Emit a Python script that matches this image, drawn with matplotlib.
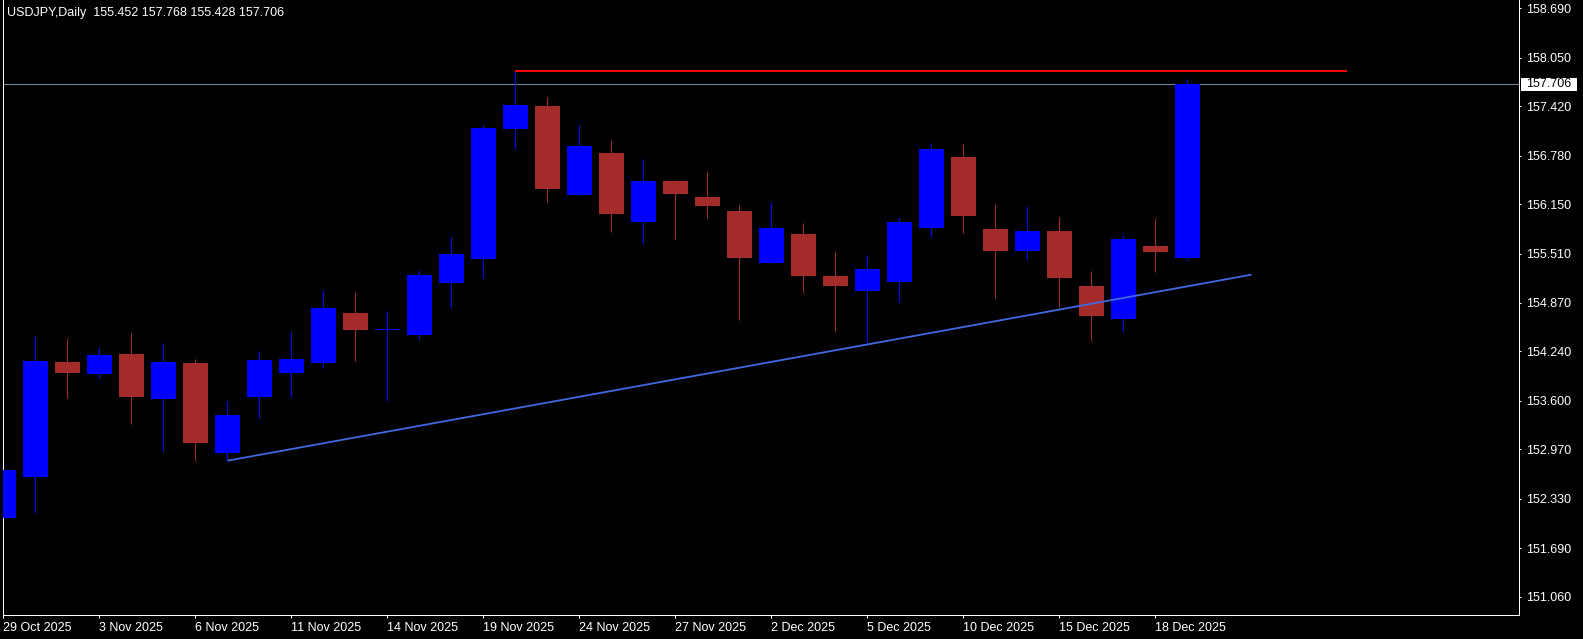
"""
USDJPY daily candles, 29 Oct - 19 Dec 2025, MT4-style dark chart
with a rising support trendline and a horizontal resistance line.
"""

import matplotlib
matplotlib.use("Agg")
import matplotlib.pyplot as plt
import matplotlib.transforms as mtransforms
import matplotlib.patches as mpatches
import numpy as np
import pandas as pd

plt.rcParams["font.family"] = ["Liberation Sans", "DejaVu Sans"]

# ── data ────────────────────────────────────────────────────────────────────
dates = pd.bdate_range("2025-10-29", "2025-12-19")

opens = [152.085, 152.612, 154.104, 153.952, 154.207, 153.624, 154.091, 152.924,
         153.650, 153.961, 154.091, 154.739, 154.515, 154.454, 155.128, 155.439,
         157.125, 157.423, 156.269, 156.814, 155.919, 156.451, 156.243, 156.062,
         155.389, 155.759, 155.219, 155.029, 155.141, 155.841, 156.762, 155.828,
         155.543, 155.802, 155.089, 154.661, 155.608, 155.452]
highs = [153.053, 154.441, 154.415, 154.298, 154.480, 154.350, 154.142, 153.598,
         154.246, 154.493, 155.037, 155.011, 154.769, 155.300, 155.724, 157.177,
         157.881, 157.540, 157.177, 156.982, 156.736, 156.464, 156.580, 156.139,
         156.178, 155.901, 155.543, 155.491, 155.984, 156.943, 156.931, 156.152,
         156.126, 155.984, 155.284, 155.750, 155.971, 157.768]
lows = [151.740, 152.150, 153.641, 153.900, 153.304, 152.950, 152.824, 152.824,
        153.381, 153.650, 154.026, 154.121, 153.598, 154.402, 154.808, 155.197,
        156.869, 156.182, 156.265, 155.793, 155.638, 155.699, 155.975, 154.652,
        155.385, 154.998, 154.493, 154.337, 154.882, 155.724, 155.776, 154.933,
        155.426, 154.817, 154.376, 154.493, 155.271, 155.428]
closes = [152.703, 154.117, 153.961, 154.194, 153.650, 154.104, 153.053, 153.416,
          154.130, 154.142, 154.804, 154.519, 154.516, 155.232, 155.504, 157.138,
          157.436, 156.351, 156.904, 156.023, 156.451, 156.282, 156.127, 155.452,
          155.841, 155.219, 155.089, 155.309, 155.919, 156.866, 155.997, 155.543,
          155.802, 155.193, 154.700, 155.699, 155.530, 157.706]

# trendline anchors (bar index, price) and resistance level
trend_bars   = [7, 39]
trend_prices = [152.824, 155.236]
resist_bars  = [16, 42]
resist_price = 157.881
last_price   = 157.706

ytick_vals = [151.060, 151.690, 152.330, 152.970, 153.600, 154.240, 154.870,
              155.510, 156.150, 156.780, 157.420, 158.050, 158.690]

# ── style ───────────────────────────────────────────────────────────────────
BULL  = "#0000FF"
BEAR  = "#A52A2A"
TREND = "#4169E1"
RES   = "#FF0000"
GRID  = "#778899"
PX    = 0.72          # one pixel in points at dpi 100

W, H = 1583, 639
fig = plt.figure(figsize=(W / 100, H / 100), dpi=100, facecolor="black")
ax = fig.add_axes([2.5 / W, 1 - 615 / H, (1519.3 - 2.5) / W, 615 / H])
ax.set_facecolor("black")

x = np.arange(len(dates))
o, h, l, c = map(np.array, (opens, highs, lows, closes))
cols = [BULL if cc >= oo else BEAR for oo, cc in zip(o, c)]

# wicks then bodies
ax.vlines(x, l, h, colors=cols, lw=1.0 * PX, zorder=2)
body_lo = np.minimum(o, c)
body_h = np.maximum(np.abs(c - o), 0.013)
ax.bar(x, body_h, bottom=body_lo, width=0.77, color=cols, lw=0, zorder=3)

# last price line + lines drawn on chart
ax.axhline(last_price, color=GRID, lw=1.0 * PX, zorder=1)
ax.plot(trend_bars, trend_prices, color=TREND, lw=1.8 * PX, zorder=4,
        solid_capstyle="butt")
ax.plot(resist_bars, [resist_price, resist_price], color=RES, lw=2.0 * PX,
        zorder=4, solid_capstyle="butt")

ax.set_xlim(-0.028, 47.37)
ax.set_ylim(150.823, 158.798)

# axes / frame
for side in ("left", "bottom", "right"):
    ax.spines[side].set_color("white")
    ax.spines[side].set_linewidth(1.0 * PX)
ax.spines["top"].set_visible(False)

ax.yaxis.tick_right()
ax.set_yticks(ytick_vals)
ax.set_yticklabels([f"{v:.3f}" for v in ytick_vals])
ax.tick_params(axis="y", colors="white", length=2.5 * PX, width=PX,
               pad=3.4, labelsize=9)

tick_idx = x[::3]
ax.set_xticks(tick_idx)
ax.set_xticklabels([f"{d.day} {d.strftime('%b %Y')}" for d in dates[tick_idx]])
ax.tick_params(axis="x", colors="white", length=3 * PX, width=PX,
               pad=3.0, labelsize=9)
for lbl in ax.get_xticklabels():
    lbl.set_ha("left")

# current price tag on the price scale
tag = mtransforms.blended_transform_factory(ax.transAxes, ax.transData)
ax.add_patch(mpatches.Rectangle((1.0012, last_price - 0.087), 0.0367, 0.174,
                                transform=tag, facecolor="white",
                                edgecolor="none", clip_on=False, zorder=5))
ax.text(1.0045, last_price, f"{last_price:.3f}", transform=tag, color="black",
        fontsize=9, va="center", ha="left", zorder=6, clip_on=False)

# symbol header
ax.text(0.00316, 1 - 12.7 / 615,
        "USDJPY,Daily  155.452 157.768 155.428 157.706",
        transform=ax.transAxes, color="white", fontsize=9, va="center", ha="left")

fig.savefig("out.png", dpi=100, facecolor="black")
